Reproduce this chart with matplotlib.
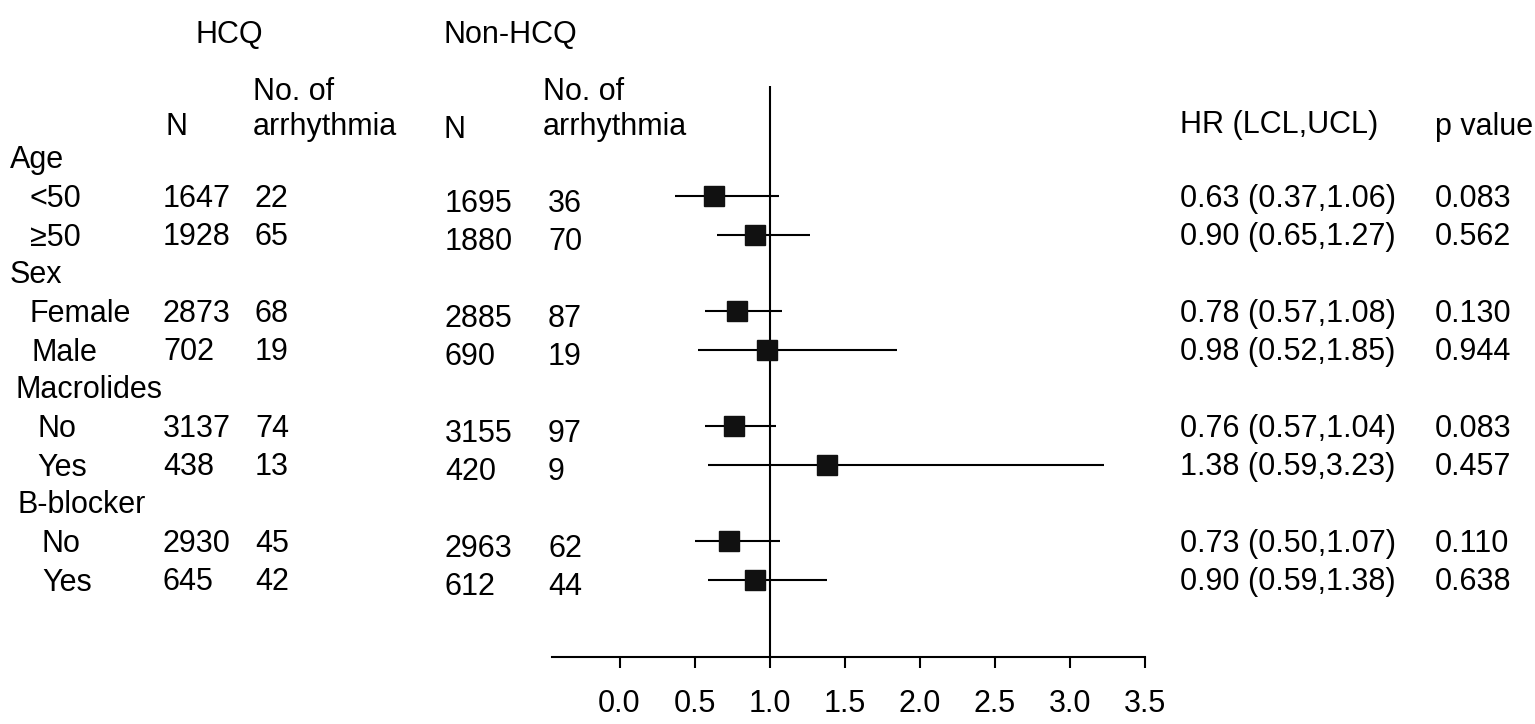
import matplotlib
matplotlib.use("Agg")
import matplotlib.pyplot as plt
import matplotlib.transforms as mtransforms

plt.rcParams['font.family'] = ['Liberation Sans', 'DejaVu Sans']

# données
groups = ["Age", "Sex", "Macrolides", "B-blocker"]
subgroups = ["<50", "≥50", "Female", "Male", "No", "Yes", "No", "Yes"]
hcq_n = [1647, 1928, 2873, 702, 3137, 438, 2930, 645]
hcq_events = [22, 65, 68, 19, 74, 13, 45, 42]
non_n = [1695, 1880, 2885, 690, 3155, 420, 2963, 612]
non_events = [36, 70, 87, 19, 97, 9, 62, 44]
hr = [0.63, 0.90, 0.78, 0.98, 0.76, 1.38, 0.73, 0.90]
lcl = [0.37, 0.65, 0.57, 0.52, 0.57, 0.59, 0.50, 0.59]
ucl = [1.06, 1.27, 1.08, 1.85, 1.04, 3.23, 1.07, 1.38]
p_values = ["0.083", "0.562", "0.130", "0.944", "0.083", "0.457", "0.110", "0.638"]
xticks = [0.0, 0.5, 1.0, 1.5, 2.0, 2.5, 3.0, 3.5]

W, H = 1535, 724
FS = 22

# lignes : un en-tête de groupe puis deux sous-groupes
group_rows = [3 * g for g in range(len(groups))]
sub_rows = [3 * (i // 2) + 1 + i % 2 for i in range(len(subgroups))]

fig = plt.figure(figsize=(W / 100, H / 100), dpi=100)
ax = fig.add_axes([552 / W, 1 - 657 / H, (1145 - 552) / W, (657 - 86) / H])
ax.set_xlim(-0.45, 3.5)
ax.set_ylim(13.02, -1.88)

for s in ["left", "right", "top"]:
    ax.spines[s].set_visible(False)
ax.spines["bottom"].set_linewidth(1.5)
ax.set_yticks([])
ax.set_xticks(xticks)
ax.set_xticklabels([f"{t:.1f}" for t in xticks], fontsize=FS)
ax.tick_params(axis="x", length=8, width=1.5, pad=15)

ax.axvline(1.0, color="black", lw=1.5)

# intervalles de confiance + carrés
ax.hlines(sub_rows, lcl, ucl, color="black", lw=1.5)
ax.plot(hr, sub_rows, "s", color="#111111", markersize=14.5, zorder=3)

# colonnes de texte (x en fraction de figure, y en données)
tr = mtransforms.blended_transform_factory(fig.transFigure, ax.transData)


def col(xpx, y, s, **kw):
    ax.text(xpx / W, y, s, transform=tr, fontsize=FS, va="center",
            ha="left", clip_on=False, **kw)


group_x = [10, 10, 15, 17]
sub_x = [30, 30, 30, 31, 37, 37, 42, 42]
for g, r, xg in zip(groups, group_rows, group_x):
    col(xg, r + 0.05, g)
for i, r in enumerate(sub_rows):
    col(sub_x[i], r + 0.08, subgroups[i])
    col(163, r + 0.06, str(hcq_n[i]))
    col(255, r + 0.06, str(hcq_events[i]))
    col(445, r + 0.2, str(non_n[i]))
    col(548, r + 0.2, str(non_events[i]))
    col(1180, r + 0.06, f"{hr[i]:.2f} ({lcl[i]:.2f},{ucl[i]:.2f})")
    col(1435, r + 0.06, p_values[i])

# en-têtes
col(196, -3.2, "HCQ")
col(443, -3.2, "Non-HCQ")
col(253, -1.72, "No. of")
col(543, -1.72, "No. of")
col(165, -0.8, "N")
col(253, -0.8, "arrhythmia")
col(443, -0.72, "N")
col(543, -0.8, "arrhythmia")
col(1180, -0.85, "HR (LCL,UCL)")
col(1435, -0.8, "p value")

fig.savefig("out.png", dpi=100)
